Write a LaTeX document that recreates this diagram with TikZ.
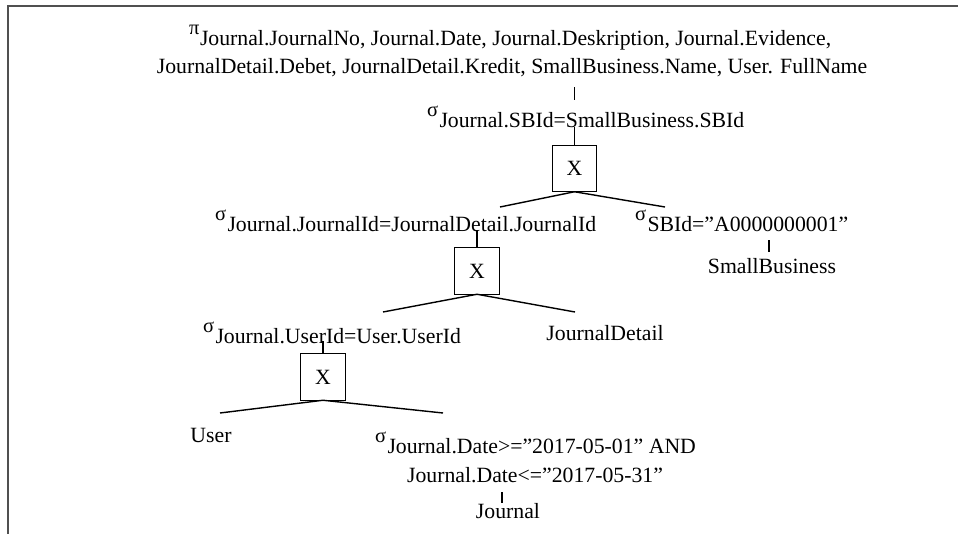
\documentclass[tikz,border=0pt]{standalone}
\usepackage{fontspec}
\setmainfont{Liberation Serif}
\usetikzlibrary{calc}
% raised Greek operator symbol in front of a relational-algebra label
\newcommand\gk[2][12.5pt]{\makebox[#1][l]{\raisebox{10.5pt}{\fontsize{20.5}{20.5}\selectfont #2}}}

\begin{document}
\begin{tikzpicture}[x=1pt,y=-1pt,
  every node/.style={inner sep=0pt, outer sep=0pt, font=\fontsize{21.75}{26}\selectfont},
  lbl/.style={anchor=base west},
  ctr/.style={anchor=base},
  joinbox/.style={draw, line width=1.4pt, minimum width=44.5pt, minimum height=46.5pt, anchor=center},
  edge/.style={line width=1.4pt},
  tick/.style={line width=1.1pt},
  frame/.style={draw={rgb,255:red,80;green,80;blue,80}, line width=2.3pt}]
\useasboundingbox (0,0) rectangle (958,533);

% page frame (top and left rules)
\draw[frame] (962,6.3) -- (8.2,6.3) -- (8.2,540);

% projection
\node[lbl] (proj1) at (189,45) {\gk[11pt]{π}Journal.JournalNo, Journal.Date, Journal.Deskription, Journal.Evidence,};
\node[ctr] (proj2) at (512,73) {JournalDetail.Debet, JournalDetail.Kredit, SmallBusiness.Name, User. FullName};

% top selection and join
\node[lbl] (selSB) at (427,127) {\gk{σ}Journal.SBId=SmallBusiness.SBId};
\node[joinbox] (box1) at (574.5,168.5) {X};

% second level
\node[lbl] (selJD) at (215,231) {\gk{σ}Journal.JournalId=JournalDetail.JournalId};
\node[lbl] (selSBId) at (635,231) {\gk{σ}SBId=”A0000000001”};
\node[ctr] (sb) at (772,273) {SmallBusiness};
\node[joinbox] (box2) at (477,271) {X};

% third level
\node[lbl] (selUser) at (203,343) {\gk{σ}Journal.UserId=User.UserId};
\node[ctr] (jd) at (605,340) {JournalDetail};
\node[joinbox] (box3) at (323,377) {X};

% leaves
\node[ctr] (user) at (211,442) {User};
\node[lbl] (selDate1) at (375,453) {\gk{σ}Journal.Date>=”2017-05-01” AND};
\node[ctr] (selDate2) at (535,482) {Journal.Date<=”2017-05-31”};
\node[ctr] (jn) at (508,518) {Journal};

% free ends of the join branches
\coordinate (b1l) at (500,207);
\coordinate (b1r) at (665,207);
\coordinate (b2l) at (383,312);
\coordinate (b2r) at (575,312);
\coordinate (b3l) at (220,413);
\coordinate (b3r) at (443,413);

% short ticks between stacked labels
\draw[tick] ($(proj2.base -| box1.north)+(0,14)$) -- ($(selSB.base -| box1.north)+(0,-27)$);
\draw[tick] ($(selSBId.base -| sb.base)+(-3,9)$) -- ($(sb.base)+(-3,-21)$);
\draw[tick] ($(selDate2.base -| jn.base)+(-6,10)$) -- ($(jn.base)+(-6,-15)$);

% selections down into the joins
\draw[edge] (selSB.base -| box1.north) -- (box1.north);
\draw[edge] ($(selJD.base -| box2.north)+(0,-1)$) -- (box2.north);
\draw[edge] ($(selUser.base -| box3.north)+(0,-2)$) -- (box3.north);

% join branches
\draw[edge] (b1l) -- (box1.south) -- (b1r);
\draw[edge] (b2l) -- (box2.south) -- (b2r);
\draw[edge] (b3l) -- (box3.south) -- (b3r);
\end{tikzpicture}
\end{document}
